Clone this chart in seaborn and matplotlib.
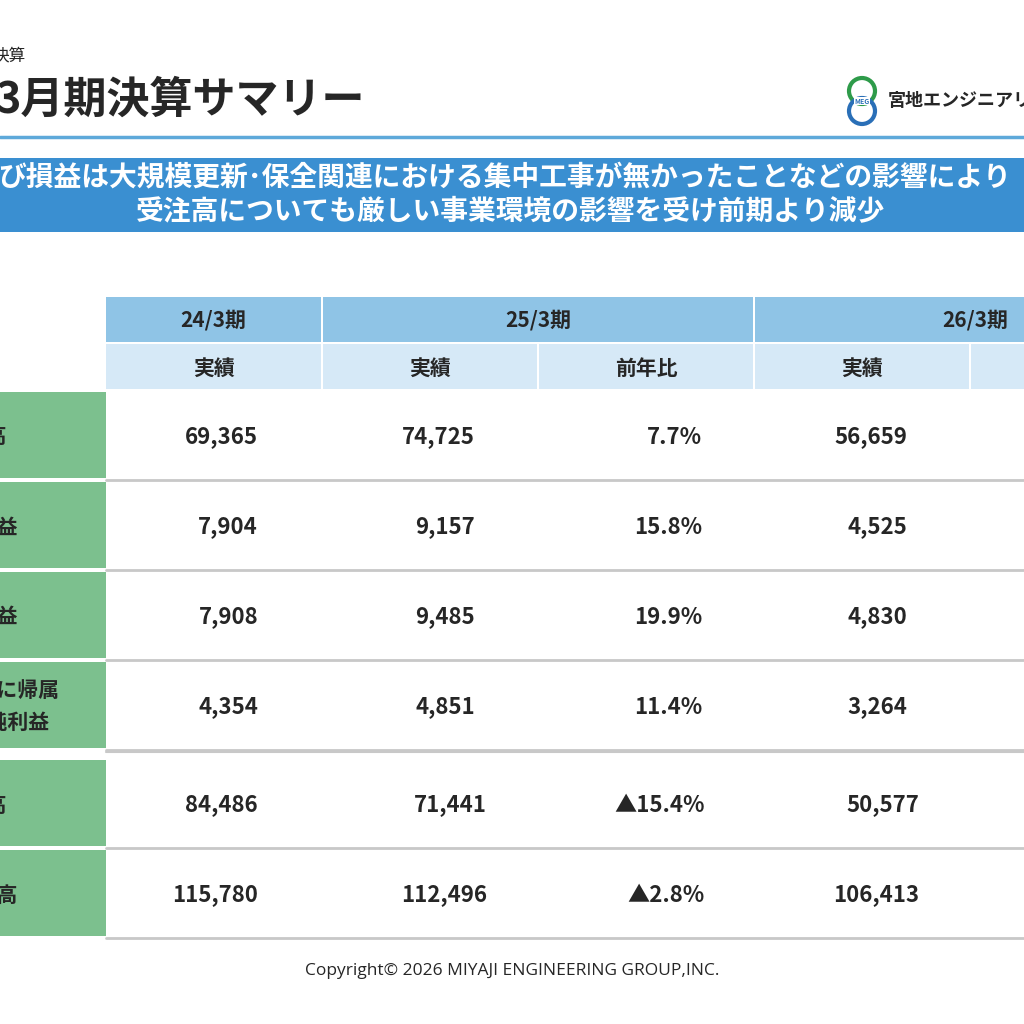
import matplotlib.pyplot as plt
import matplotlib.patches as mpatches
import seaborn as sns

sns.set_theme(style="white")
plt.rcParams['font.family'] = ['Noto Sans CJK JP', 'DejaVu Sans']

# table data
periods = ['24/3期', '25/3期', '26/3期']
sub_headers = ['実績', '実績', '前年比', '実績', '']
row_labels = ['売上高', '営業利益', '経常利益', '親会社株主に帰属\nする当期純利益', '受注高', '受注残高']
actual_24 = ['69,365', '7,904', '7,908', '4,354', '84,486', '115,780']
actual_25 = ['74,725', '9,157', '9,485', '4,851', '71,441', '112,496']
yoy_25 = ['7.7%', '15.8%', '19.9%', '11.4%', '▲15.4%', '▲2.8%']
actual_26 = ['56,659', '4,525', '4,830', '3,264', '50,577', '106,413']

fig = plt.figure(figsize=(10.24, 10.24), dpi=100)
ax = fig.add_axes([0, 0, 1, 1])
ax.set_xlim(0, 1024)
ax.set_ylim(1024, 0)
ax.axis('off')

def rect(x0, y0, x1, y1, color):
    ax.add_patch(mpatches.Rectangle((x0, y0), x1 - x0, y1 - y0, color=color, lw=0))

# header area
ax.text(-8, 56, '決算', fontsize=12, va='center', ha='left')
ax.text(-4, 100, '3月期決算サマリー', fontsize=31, fontweight='bold', va='center', ha='left')
ax.plot([0, 1024], [137, 137], color='#5ea9da', lw=2.5)

# logo
ax.add_patch(mpatches.Ellipse((862, 91), 26, 26, fill=False, ec='#2e9b4a', lw=3))
ax.add_patch(mpatches.Ellipse((862, 111), 26, 26, fill=False, ec='#2a6fb7', lw=3))
ax.text(862, 101, 'MEG', fontsize=5, fontweight='bold', ha='center', va='center',
        color='#2a6fb7', bbox=dict(fc='white', ec='none', pad=0.5))
ax.text(888, 101, '宮地エンジニアリング', fontsize=13, fontweight='bold', va='center', ha='left')

# banner
rect(0, 158, 1024, 232, '#3a8fd1')
ax.text(-2, 177, 'び損益は大規模更新･保全関連における集中工事が無かったことなどの影響により',
        fontsize=20, fontweight='bold', color='white', va='center', ha='left')
ax.text(511, 212, '受注高についても厳しい事業環境の影響を受け前期より減少',
        fontsize=20, fontweight='bold', color='white', va='center', ha='center')

# table headers
head_dark = '#8fc4e6'
head_light = '#d6e9f7'
col_edges = [(106, 321), (323, 537), (539, 753), (755, 969), (971, 1030)]
period_spans = [(106, 321), (323, 753), (755, 1030)]
for (x0, x1), p in zip(period_spans, periods):
    rect(x0, 297, x1, 342, head_dark)
    cx = (x0 + x1) / 2 if x1 < 1024 else 975
    ax.text(cx, 320, p, fontsize=15, fontweight='bold', ha='center', va='center')
for (x0, x1), s in zip(col_edges, sub_headers):
    rect(x0, 344, x1, 389, head_light)
    ax.text((x0 + x1) / 2, 368, s, fontsize=15, fontweight='bold', ha='center', va='center')

# body rows
row_tops = [392, 482, 572, 662, 760, 850]
row_h = 86
for i, top in enumerate(row_tops):
    rect(0, top, 106, top + row_h, '#7cc08e')
    cy = top + row_h / 2 + 2
    ax.text(-24, cy, row_labels[i], fontsize=15, fontweight='bold', ha='center', va='center',
            linespacing=1.6)
    ax.plot([106, 1024], [top + row_h + 2, top + row_h + 2], color='#c8c8c8', lw=2)
    shift = 12 if i >= 4 else 0
    ax.text(258, cy, actual_24[i], fontsize=16, fontweight='bold', ha='right', va='center')
    ax.text(475 + shift, cy, actual_25[i], fontsize=16, fontweight='bold', ha='right', va='center')
    ax.text(702 + shift * 0.2, cy, yoy_25[i], fontsize=16, fontweight='bold', ha='right', va='center')
    ax.text(907 + shift, cy, actual_26[i], fontsize=16, fontweight='bold', ha='right', va='center')
ax.plot([106, 1024], [752, 752], color='#c8c8c8', lw=1.5)

ax.text(512, 971, 'Copyright© 2026 MIYAJI ENGINEERING GROUP,INC.', fontsize=12.5,
        ha='center', va='center', family=['Open Sans', 'DejaVu Sans'])

fig.savefig('out.png', dpi=100)
